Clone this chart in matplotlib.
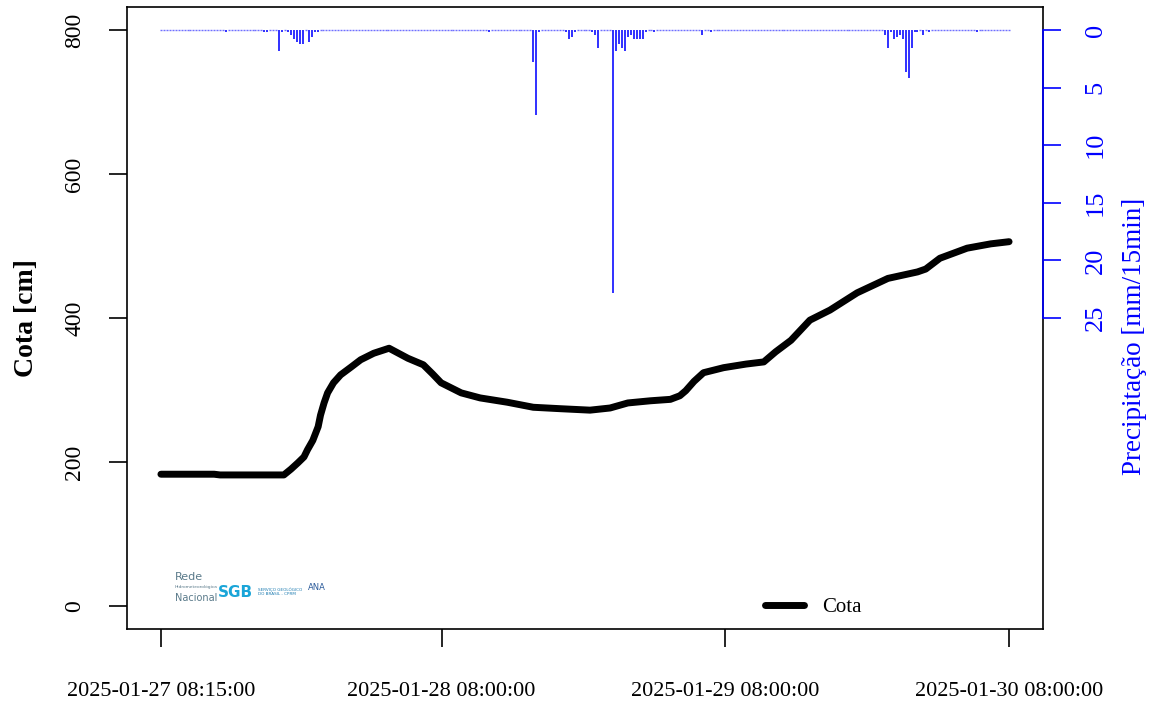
import numpy as np
import pandas as pd
import matplotlib
matplotlib.use("Agg")
import matplotlib.pyplot as plt

plt.rcParams["font.family"] = ["Liberation Serif", "DejaVu Serif"]

start = pd.Timestamp("2025-01-27 08:15:00")

# cota (cm), hours after start
cota_h = [0, 4.5, 5.0, 10.4, 11.0, 11.6, 12.1, 12.4, 12.85, 13.3, 13.5, 13.8, 14.1, 14.6,
          15.2, 16.1, 16.9, 18.0, 19.3, 20.9, 22.2, 23.0, 23.7, 25.4, 27.0, 29.3, 31.5,
          33.8, 36.3, 38.0, 39.5, 41.4, 43.1, 43.9, 44.4, 45.1, 45.9, 47.6, 49.5, 51.0,
          52.0, 53.3, 54.9, 56.6, 58.9, 61.5, 64.0, 64.7, 65.9, 68.2, 70.2, 71.75]
cota_cm = [183, 183, 182, 182, 190, 199, 207, 217, 230, 249, 265, 282, 296, 310,
           321, 332, 342, 351, 358, 344, 335, 322, 310, 296, 289, 283, 276,
           274, 272, 275, 282, 285, 287, 292, 299, 312, 324, 331, 336, 339,
           353, 369, 397, 411, 435, 455, 464, 468, 483, 497, 503, 506]

# rain in 15 min steps (index of step, mm); all other steps are zero
n_steps = 288
rain_idx = [22, 35, 36, 40, 41, 43, 44, 45, 46, 47, 48, 50, 51, 52, 53,
            111, 126, 127, 128, 137, 138, 139, 140, 146, 147, 148,
            153, 154, 155, 156, 157, 158, 159, 160, 161, 162, 163, 164, 167, 183, 186,
            245, 246, 247, 248, 249, 250, 251, 252, 253, 254, 255, 256, 258, 260, 276]
rain_mm = [0.2, 0.2, 0.2, 1.8, 0.2, 0.2, 0.4, 0.8, 1.0, 1.2, 1.2, 1.0, 0.6, 0.2, 0.2,
           0.2, 2.8, 7.4, 0.2, 0.2, 0.8, 0.6, 0.2, 0.2, 0.4, 1.6,
           22.8, 1.8, 1.2, 1.6, 1.8, 0.6, 0.4, 0.8, 0.8, 0.8, 0.8, 0.2, 0.2, 0.4, 0.2,
           0.4, 1.6, 0.2, 0.8, 0.6, 0.4, 0.8, 3.6, 4.2, 1.6, 0.2, 0.2, 0.4, 0.2, 0.2]

rain_t = np.arange(n_steps) * 0.25
rain = np.zeros(n_steps)
rain[rain_idx] = rain_mm

tick_times = ["2025-01-27 08:15:00", "2025-01-28 08:00:00",
              "2025-01-29 08:00:00", "2025-01-30 08:00:00"]
tick_h = [(pd.Timestamp(t) - start).total_seconds() / 3600 for t in tick_times]

fig = plt.figure(figsize=(11.54, 7.07), dpi=100)
ax = fig.add_axes([127 / 1154, 78 / 707, 916 / 1154, 622 / 707])

span = cota_h[-1] - cota_h[0]
ax.set_xlim(-0.04 * span, cota_h[-1] + 0.04 * span)
ax.set_ylim(-32, 832)
ax.plot(cota_h, cota_cm, color="black", lw=5, solid_capstyle="round",
        solid_joinstyle="round", label="Cota")

ax.set_yticks([0, 200, 400, 600, 800])
ax.set_yticklabels(["0", "200", "400", "600", "800"], rotation=90, va="center")
ax.set_xticks(tick_h)
ax.set_xticklabels(tick_times)
ax.tick_params(axis="y", length=13, width=1.2, labelsize=17, pad=17)
ax.tick_params(axis="x", length=13, width=1.2, labelsize=16, pad=25)
for s in ax.spines.values():
    s.set_linewidth(1.2)
ax.set_ylabel("Cota [cm]", fontsize=20, fontweight="bold", labelpad=18)

ax.legend(loc="lower right", bbox_to_anchor=(0.818, -0.004), frameon=False, fontsize=15,
          handlelength=1.9, handletextpad=0.85, borderaxespad=0.3)

# precipitation on an inverted right axis
ax2 = ax.twinx()
ax2.set_ylim(52, -2)
ax2.vlines(rain_t[rain > 0], 0, rain[rain > 0], color="#2020ff", lw=1.3)
ax2.plot(rain_t[rain == 0], rain[rain == 0], ls="none", marker="_", ms=1.5,
         mew=1.0, color="#7070ff")
for k in ["left", "top", "bottom"]:
    ax2.spines[k].set_visible(False)
ax2.spines["right"].set_bounds(0, 25)
ax2.spines["right"].set_color("#0000ff")
ax2.spines["right"].set_linewidth(1.2)
ax2.set_yticks([0, 5, 10, 15, 20, 25])
ax2.set_yticklabels(["0", "5", "10", "15", "20", "25"], rotation=90, va="center")
ax2.tick_params(axis="y", length=13, width=1.2, labelsize=19, pad=17,
                colors="#0000ff")
ax2.set_ylabel("Precipitação [mm/15min]", fontsize=19.5, color="#0000ff",
               rotation=90)
ax2.yaxis.set_label_coords(1.086, 0.47)

# logo stand-in
logo = dict(transform=ax.transAxes, family="DejaVu Sans", va="center")
ax.text(0.052, 0.084, "Rede", fontsize=8, color="#5a7a8a", **logo)
ax.text(0.052, 0.068, "Hidrometeorológica", fontsize=3.2, color="#5a7a8a", **logo)
ax.text(0.052, 0.050, "Nacional", fontsize=7, color="#5a7a8a", **logo)
ax.text(0.099, 0.058, "SGB", fontsize=11, color="#1aa5d8", fontweight="bold", **logo)
ax.text(0.143, 0.060, "SERVIÇO GEOLÓGICO\nDO BRASIL - CPRM", fontsize=3,
        color="#1a7ab0", **logo)
ax.text(0.197, 0.066, "ANA", fontsize=6, color="#2a5a9a", **logo)

fig.savefig("out.png", dpi=100)
